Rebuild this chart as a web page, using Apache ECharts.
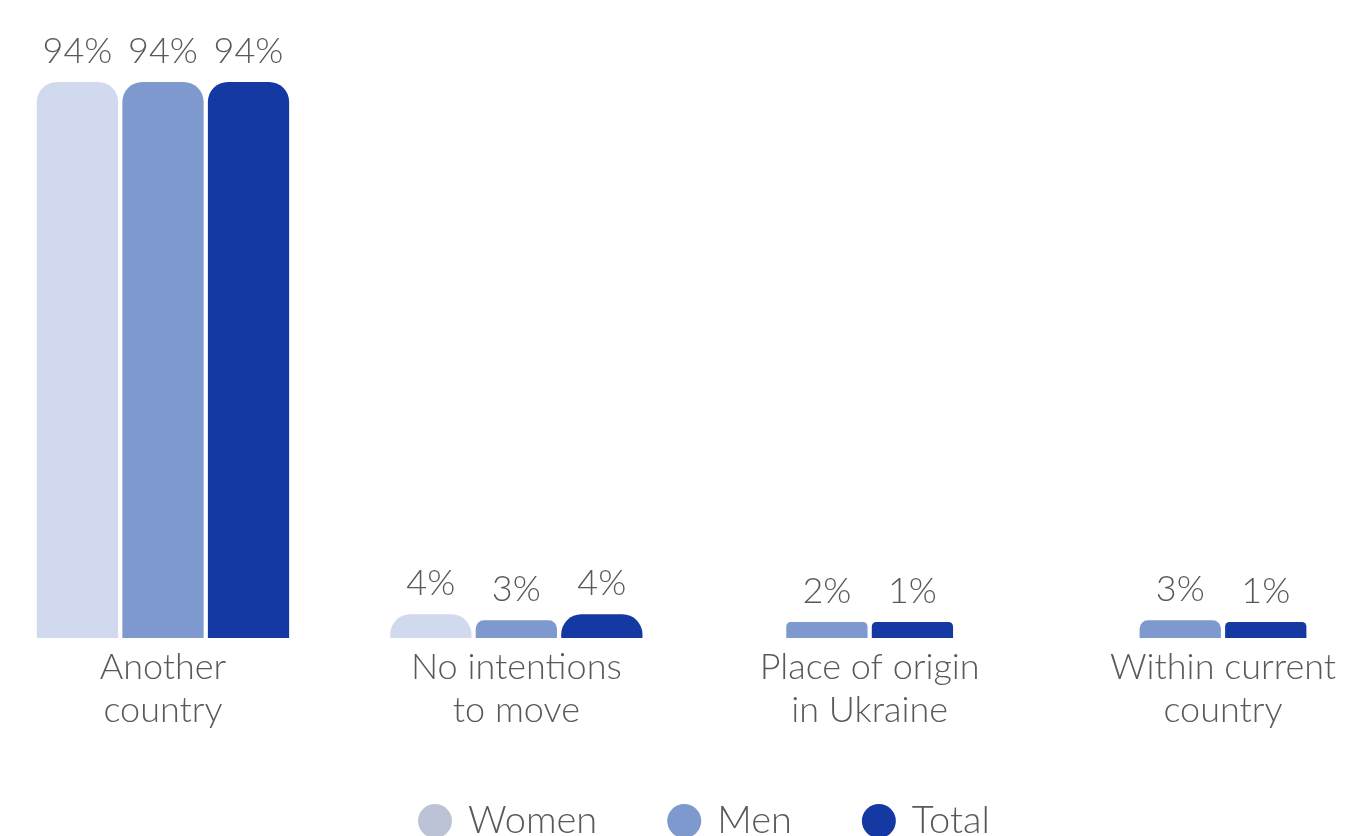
<!DOCTYPE html>
<html><head><meta charset="utf-8">
<script src="https://cdn.jsdelivr.net/npm/echarts@6/dist/echarts.min.js"></script>
<style>html,body{margin:0;padding:0;background:#fff}#chart{width:1352px;height:836px}</style>
</head><body><div id="chart"></div>
<script>
// Intended destination, by gender (%)
const categories = ['Another\ncountry', 'No intentions\nto move', 'Place of origin\nin Ukraine', 'Within current\ncountry'];
const seriesNames = ['Women', 'Men', 'Total'];
const women = [94, 4, null, null];
const men = [94, 3, 2, 3];
const total = [94, 4, 1, 1];
const values = [women, men, total];
const barColors = ['#d0d9ee', '#7e99ce', '#1439a3'];
const legendColors = ['#bcc3d6', '#7e99ce', '#1439a3'];

const FONT = 'Lato';
const TEXT = '#595959';
const MIN_H = 16;

const chart = echarts.init(document.getElementById('chart'), null, { renderer: 'canvas' });

// Bars inside a category are centred on it, skipping series with no value there.
function renderBar(s) {
  return function (params, api) {
    const ci = api.value(0);
    const v = api.value(1);
    const present = [];
    for (let k = 0; k < values.length; k++) if (values[k][ci] != null) present.push(k);
    const slot = present.indexOf(s);
    const band = api.coord([1, 0])[0] - api.coord([0, 0])[0];
    const bw = band * 0.23, gap = band * 0.012;
    const groupW = present.length * bw + (present.length - 1) * gap;
    const base = api.coord([ci, 0]);
    const top = api.coord([ci, v]);
    const h = Math.max(base[1] - top[1], MIN_H);
    const x = base[0] - groupW / 2 + slot * (bw + gap);
    const y = base[1] - h;
    const r = Math.min(20, Math.max(4, (h - 14) * 2.2));
    return {
      type: 'group',
      children: [
        { type: 'rect', shape: { x: x, y: y, width: bw, height: h, r: [r, r, 0, 0] },
          style: { fill: barColors[s] } },
        { type: 'text', x: x + bw / 2, y: y - 13,
          style: { text: v + '%', fill: TEXT, fontSize: 36, fontFamily: FONT, fontWeight: 300,
                   align: 'center', verticalAlign: 'bottom' } }
      ]
    };
  };
}

const series = seriesNames.map(function (name, s) {
  const data = [];
  values[s].forEach(function (v, i) { if (v != null) data.push([i, v]); });
  return {
    name: name,
    type: 'custom',
    clip: false,
    itemStyle: { color: legendColors[s] },
    encode: { x: 0, y: 1 },
    renderItem: renderBar(s),
    data: data
  };
});

chart.setOption({
  animation: false,
  grid: { left: 163, right: 129, top: 46.5, bottom: 198, containLabel: false },
  xAxis: {
    type: 'category',
    data: categories,
    boundaryGap: false,
    axisLine: { show: false },
    axisTick: { show: false },
    axisLabel: { interval: 0, margin: 8, fontSize: 36, lineHeight: 43, color: TEXT,
                 fontFamily: FONT, fontWeight: 300 }
  },
  yAxis: { type: 'value', min: 0, max: 100, show: false },
  legend: {
    left: 413, top: 797,
    icon: 'circle', itemWidth: 34, itemHeight: 34, itemGap: 70,
    textStyle: { fontSize: 38, color: TEXT, fontFamily: FONT, fontWeight: 300, padding: [0, 0, 0, 11] },
    data: seriesNames.map(function (n, i) { return { name: n, itemStyle: { color: legendColors[i] } }; })
  },
  series: series
});
</script>
</body></html>
